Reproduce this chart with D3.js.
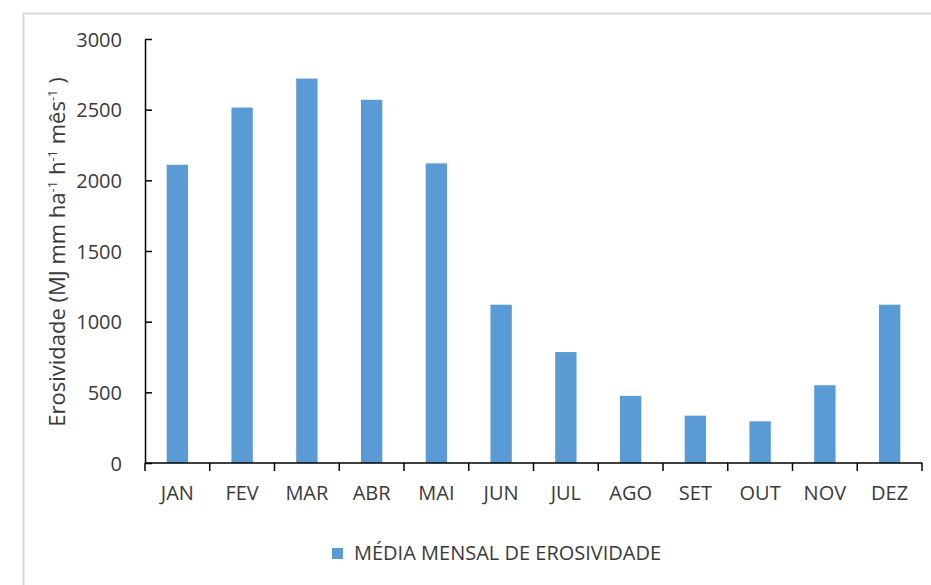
<!DOCTYPE html>
<html>
<head>
<meta charset="utf-8">
<script src="https://cdn.jsdelivr.net/npm/d3@7"></script>
<style>
  body { margin: 0; background: #fff; }
  text { font-family: "Open Sans", sans-serif; fill: #3a3a3a; }
</style>
</head>
<body>
<svg id="chart" width="931" height="585"></svg>
<script>
// data
const months = ["JAN", "FEV", "MAR", "ABR", "MAI", "JUN", "JUL", "AGO", "SET", "OUT", "NOV", "DEZ"];
const erosividade = [2110, 2515, 2720, 2570, 2120, 1120, 785, 475, 335, 295, 550, 1120];
const yTicks = [0, 500, 1000, 1500, 2000, 2500, 3000];
const seriesName = "MÉDIA MENSAL DE EROSIVIDADE";

let svg = d3.select('#chart'),
    margin = { top: 39, left: 145, right: 9, bottom: 122 },
    width = 931 - margin.left - margin.right,
    height = 585 - margin.top - margin.bottom,
    barColor = '#5b9bd5';

// outer frame (light gray)
svg.append('path')
    .attr('d', 'M23.5,585 V13.5 H931')
    .attr('fill', 'none')
    .attr('stroke', '#d9d9d9')
    .attr('stroke-width', 2);

let g = svg.append('g')
    .attr('transform', 'translate(' + margin.left + ',' + margin.top + ')');

let xScale = d3.scaleBand()
    .domain(months)
    .range([0, width])
    .paddingInner(0.67)
    .paddingOuter(0.335);

let xTicks = d3.scaleBand().domain(months).range([0, width]);

let yScale = d3.scaleLinear()
    .domain([0, 3000])
    .range([height, 0]);

// bars
g.selectAll('.bar')
    .data(months)
    .enter()
    .append('rect')
    .attr('class', 'bar')
    .attr('x', d => xScale(d))
    .attr('width', xScale.bandwidth())
    .attr('y', (d, i) => yScale(erosividade[i]))
    .attr('height', (d, i) => height - yScale(erosividade[i]))
    .attr('fill', barColor);

// y axis (ticks pointing inside)
let yAxis = g.append('g')
    .call(d3.axisRight(yScale).tickValues(yTicks).tickFormat(d3.format('d')).tickSize(7).tickSizeOuter(0));
yAxis.selectAll('line').attr('stroke', '#000').attr('stroke-width', 1.5);
yAxis.select('.domain').attr('stroke', '#000').attr('stroke-width', 1.5);
yAxis.selectAll('.tick text')
    .attr('x', -23)
    .attr('dy', '0.35em')
    .style('text-anchor', 'end')
    .style('font-size', '20px');

// x axis with ticks between categories
let xAxis = g.append('g')
    .attr('transform', 'translate(0,' + height + ')');
xAxis.append('line')
    .attr('x1', 0).attr('x2', width)
    .attr('stroke', '#000').attr('stroke-width', 1.5);
xAxis.selectAll('.xtick')
    .data(months.concat(['end']))
    .enter()
    .append('line')
    .attr('x1', (d, i) => i < months.length ? xTicks(d) : width)
    .attr('x2', (d, i) => i < months.length ? xTicks(d) : width)
    .attr('y1', 0).attr('y2', 8)
    .attr('stroke', '#000').attr('stroke-width', 1.5);
xAxis.selectAll('.xlabel')
    .data(months)
    .enter()
    .append('text')
    .attr('x', d => xTicks(d) + xTicks.bandwidth() / 2)
    .attr('y', 37)
    .style('text-anchor', 'middle')
    .style('font-size', '20px')
    .text(d => d);

// y axis label
let yl = svg.append('text')
    .attr('transform', 'translate(65,' + (margin.top + height / 2 + 1) + ') rotate(-90)')
    .style('text-anchor', 'middle')
    .style('font-size', '22px');
yl.append('tspan').text('Erosividade (MJ mm  ha');
yl.append('tspan').attr('dy', -8).style('font-size', '13px').text('-1');
yl.append('tspan').attr('dy', 8).text(' h');
yl.append('tspan').attr('dy', -8).style('font-size', '13px').text('-1');
yl.append('tspan').attr('dy', 8).text(' mês');
yl.append('tspan').attr('dy', -8).style('font-size', '13px').text('-1');
yl.append('tspan').attr('dy', 8).text(' )');

// legend
let legend = svg.append('g').attr('transform', 'translate(332,548)');
legend.append('rect')
    .attr('width', 11).attr('height', 11)
    .attr('fill', barColor);
legend.append('text')
    .attr('x', 22).attr('y', 12)
    .style('font-size', '20px')
    .text(seriesName);
</script>
</body>
</html>
